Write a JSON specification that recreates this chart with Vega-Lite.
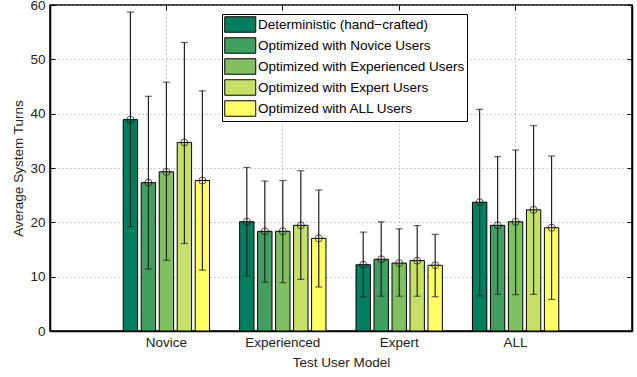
{
  "$schema": "https://vega.github.io/schema/vega-lite/v6.json",
  "width": 582,
  "height": 326,
  "autosize": {"type": "none"},
  "padding": {"left": 50, "top": 5, "right": 5, "bottom": 46},
  "background": "white",
  "config": {
    "font": "Liberation Sans",
    "view": {"stroke": "black", "strokeWidth": 1.5},
    "axis": {
      "labelFont": "Liberation Sans",
      "titleFont": "Liberation Sans",
      "labelFontSize": 13.5,
      "titleFontSize": 13.5,
      "labelColor": "#222",
      "titleColor": "#222",
      "titleFontWeight": "normal",
      "domainColor": "black",
      "domainWidth": 1.5,
      "tickColor": "black",
      "gridColor": "#999",
      "gridDash": [1, 3]
    }
  },
  "data": {
    "values": [
      {"group": "Novice", "series": "Deterministic (hand\u2212crafted)", "mean": 38.9, "lo": 19.2, "hi": 58.7},
      {"group": "Novice", "series": "Optimized with Novice Users", "mean": 27.3, "lo": 11.4, "hi": 43.2},
      {"group": "Novice", "series": "Optimized with Experienced Users", "mean": 29.3, "lo": 13.0, "hi": 45.8},
      {"group": "Novice", "series": "Optimized with Expert Users", "mean": 34.7, "lo": 16.1, "hi": 53.1},
      {"group": "Novice", "series": "Optimized with ALL Users", "mean": 27.7, "lo": 11.2, "hi": 44.2},
      {"group": "Experienced", "series": "Deterministic (hand\u2212crafted)", "mean": 20.1, "lo": 10.1, "hi": 30.1},
      {"group": "Experienced", "series": "Optimized with Novice Users", "mean": 18.35, "lo": 9.0, "hi": 27.6},
      {"group": "Experienced", "series": "Optimized with Experienced Users", "mean": 18.35, "lo": 8.9, "hi": 27.7},
      {"group": "Experienced", "series": "Optimized with Expert Users", "mean": 19.45, "lo": 9.5, "hi": 29.5},
      {"group": "Experienced", "series": "Optimized with ALL Users", "mean": 17.05, "lo": 8.1, "hi": 25.95},
      {"group": "Expert", "series": "Deterministic (hand\u2212crafted)", "mean": 12.2, "lo": 6.3, "hi": 18.2},
      {"group": "Expert", "series": "Optimized with Novice Users", "mean": 13.2, "lo": 6.4, "hi": 20.1},
      {"group": "Expert", "series": "Optimized with Experienced Users", "mean": 12.5, "lo": 6.4, "hi": 18.8},
      {"group": "Expert", "series": "Optimized with Expert Users", "mean": 12.95, "lo": 6.4, "hi": 19.4},
      {"group": "Expert", "series": "Optimized with ALL Users", "mean": 12.1, "lo": 6.3, "hi": 17.8},
      {"group": "ALL", "series": "Deterministic (hand\u2212crafted)", "mean": 23.7, "lo": 6.5, "hi": 40.8},
      {"group": "ALL", "series": "Optimized with Novice Users", "mean": 19.45, "lo": 6.75, "hi": 32.1},
      {"group": "ALL", "series": "Optimized with Experienced Users", "mean": 20.1, "lo": 6.7, "hi": 33.3},
      {"group": "ALL", "series": "Optimized with Expert Users", "mean": 22.3, "lo": 6.75, "hi": 37.8},
      {"group": "ALL", "series": "Optimized with ALL Users", "mean": 19.0, "lo": 5.8, "hi": 32.2}
    ]
  },
  "encoding": {
    "x": {
      "field": "group",
      "type": "nominal",
      "sort": ["Novice", "Experienced", "Expert", "ALL"],
      "scale": {"paddingInner": 0, "paddingOuter": 0.5},
      "axis": null
    },
    "xOffset": {
      "field": "series",
      "type": "nominal",
      "sort": ["Deterministic (hand\u2212crafted)", "Optimized with Novice Users", "Optimized with Experienced Users", "Optimized with Expert Users", "Optimized with ALL Users"],
      "scale": {"paddingInner": 0.2, "paddingOuter": 0.835}
    }
  },
  "layer": [
    {
      "mark": {"type": "bar", "stroke": "black", "strokeWidth": 1},
      "encoding": {
        "x": {
          "field": "group",
          "type": "nominal",
          "sort": ["Novice", "Experienced", "Expert", "ALL"],
          "title": "Test User Model",
          "axis": {"labelAngle": 0, "grid": true, "tickSize": -5, "labelPadding": 9, "titlePadding": 7}
        },
        "y": {
          "field": "mean",
          "type": "quantitative",
          "scale": {"domain": [0, 60], "nice": false},
          "title": "Average System Turns",
          "axis": {"values": [0, 10, 20, 30, 40, 50, 60], "grid": true, "tickSize": -5, "labelPadding": 10, "titlePadding": 4}
        },
        "color": {
          "field": "series",
          "type": "nominal",
          "sort": ["Deterministic (hand\u2212crafted)", "Optimized with Novice Users", "Optimized with Experienced Users", "Optimized with Expert Users", "Optimized with ALL Users"],
          "scale": {"range": ["#007F5F", "#41A060", "#80C062", "#C6E066", "#FFFF66"]},
          "legend": {
            "title": null,
            "orient": "none",
            "legendX": 172,
            "legendY": 9,
            "padding": 2,
            "fillColor": "white",
            "strokeColor": "black",
            "labelFont": "Liberation Sans",
            "labelFontSize": 13.5,
            "labelColor": "black",
            "labelLimit": 400,
            "symbolType": "M-1,-1H3V1H-1Z",
            "symbolSize": 240,
            "symbolStrokeColor": "black",
            "symbolStrokeWidth": 1,
            "labelOffset": 17,
            "rowPadding": 0,
            "encode": {
              "symbols": {
                "update": {
                  "shape": {"value": "M-1,-1H3V1H-1Z"},
                  "size": {"value": 240},
                  "stroke": {"value": "black"},
                  "strokeWidth": {"value": 1}
                }
              }
            }
          }
        }
      }
    },
    {
      "mark": {"type": "rule", "color": "#222", "strokeWidth": 1.2},
      "encoding": {
        "y": {"field": "lo", "type": "quantitative", "axis": null},
        "y2": {"field": "hi"}
      }
    },
    {
      "mark": {"type": "tick", "color": "#222", "size": 7, "thickness": 1.2},
      "encoding": {"y": {"field": "lo", "type": "quantitative", "axis": null}}
    },
    {
      "mark": {"type": "tick", "color": "#222", "size": 7, "thickness": 1.2},
      "encoding": {"y": {"field": "hi", "type": "quantitative", "axis": null}}
    },
    {
      "mark": {"type": "point", "shape": "circle", "filled": false, "color": "#111", "size": 50, "strokeWidth": 1},
      "encoding": {
        "x": {
          "field": "group",
          "type": "nominal",
          "sort": ["Novice", "Experienced", "Expert", "ALL"],
          "axis": {"orient": "top", "labels": false, "title": null, "grid": false, "tickSize": -5, "domain": false}
        },
        "y": {
          "field": "mean",
          "type": "quantitative",
          "axis": {"orient": "right", "values": [0, 10, 20, 30, 40, 50, 60], "labels": false, "title": null, "grid": false, "tickSize": -5}
        }
      }
    }
  ],
  "resolve": {"axis": {"x": "independent", "y": "independent"}}
}
